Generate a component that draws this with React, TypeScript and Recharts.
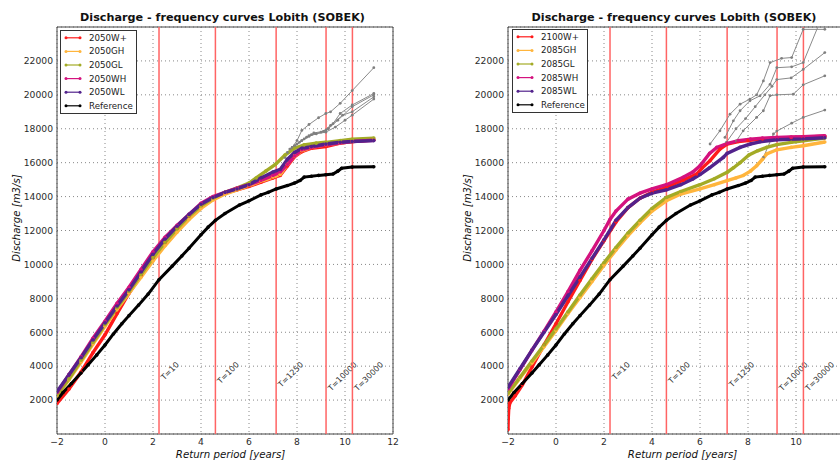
import React from "react";
import {
  LineChart,
  Line,
  XAxis,
  YAxis,
  CartesianGrid,
  ReferenceLine,
  ReferenceArea,
} from "recharts";

const FONT = "'DejaVu Sans', 'Bitstream Vera Sans', sans-serif";
const TITLE = "Discharge - frequency curves Lobith (SOBEK)";
const X_LABEL = "Return period [years]";
const Y_LABEL = "Discharge [m3/s]";

const xTicks = [-2, 0, 2, 4, 6, 8, 10, 12];
const xTicksCut = [-2, 0, 2, 4, 6, 8, 10];
const yTicks = [2000, 4000, 6000, 8000, 10000, 12000, 14000, 16000, 18000, 20000, 22000];
const returnPeriods = [10, 100, 1250, 10000, 30000];

// [gumbel reduced variate, discharge m3/s]
const reference = [
  [-2, 2000], [-1.75, 2450], [-1.4, 2980], [-1, 3600], [-0.7, 4080], [-0.35, 4650],
  [0, 5250], [0.35, 5900], [0.7, 6500], [1, 6980], [1.4, 7600], [1.8, 8250],
  [2.25, 9100], [2.8, 9900], [3.2, 10500], [3.5, 10950], [4, 11750], [4.3, 12200],
  [4.6, 12600], [5, 13000], [5.6, 13500], [6, 13750], [6.5, 14100], [6.8, 14250],
  [7.13, 14450], [7.6, 14650], [7.9, 14800], [8.13, 14950], [8.3, 15150], [8.6, 15200],
  [8.9, 15250], [9.2, 15290], [9.5, 15330], [9.7, 15500], [9.86, 15670], [10.3, 15740],
  [11.2, 15760],
];

const wPlus2050 = [
  [-2, 1800], [-1.5, 2650], [-1, 3650], [-0.5, 4800], [0, 5850], [0.5, 7100], [1, 8300],
  [1.5, 9350], [2, 10400], [2.5, 11300], [3, 12150], [3.5, 12850], [4, 13450], [4.5, 13900],
  [5, 14200], [5.5, 14400], [6, 14600], [6.5, 14850], [7, 15100], [7.3, 15250], [7.6, 15800],
  [7.9, 16350], [8.2, 16650], [8.6, 16850], [9.2, 16950], [9.8, 17150], [10.3, 17250],
  [11.2, 17350],
];
const gh2050 = [
  [-2, 2250], [-1.5, 3200], [-1, 4250], [-0.5, 5300], [0, 6350], [0.5, 7350], [1, 8300],
  [1.5, 9250], [2, 10200], [2.5, 11100], [3, 11900], [3.5, 12650], [4, 13300], [4.5, 13800],
  [5, 14150], [5.5, 14400], [6, 14650], [6.5, 14900], [7, 15150], [7.3, 15300], [7.6, 15900],
  [7.9, 16400], [8.2, 16700], [8.6, 16900], [9.2, 17050], [9.8, 17150], [10.3, 17250],
  [11.2, 17380],
];
const gl2050 = [
  [-2, 2300], [-1.5, 3250], [-1, 4350], [-0.5, 5400], [0, 6450], [0.5, 7450], [1, 8400],
  [1.5, 9400], [2, 10400], [2.5, 11300], [3, 12100], [3.5, 12850], [4, 13450], [4.5, 13900],
  [5, 14250], [5.5, 14500], [6, 14800], [6.3, 15100], [6.7, 15500], [7.1, 15900], [7.5, 16450],
  [7.9, 16850], [8.3, 17050], [8.8, 17150], [9.2, 17200], [9.8, 17300], [10.3, 17380],
  [11.2, 17450],
];
const wh2050 = [
  [-2, 2450], [-1.5, 3500], [-1, 4550], [-0.5, 5650], [0, 6650], [0.5, 7700], [1, 8650],
  [1.5, 9700], [2, 10750], [2.5, 11600], [3, 12300], [3.5, 12950], [4, 13600], [4.5, 14000],
  [5, 14250], [5.5, 14500], [6, 14700], [6.5, 14950], [7, 15250], [7.3, 15450], [7.6, 15900],
  [7.9, 16400], [8.2, 16750], [8.6, 16900], [9.2, 17050], [9.8, 17150], [10.3, 17250],
  [11.2, 17320],
];
const wl2050 = [
  [-2, 2500], [-1.5, 3500], [-1, 4500], [-0.5, 5550], [0, 6550], [0.5, 7550], [1, 8500],
  [1.5, 9550], [2, 10600], [2.5, 11500], [3, 12250], [3.5, 12950], [4, 13550], [4.5, 13950],
  [5, 14250], [5.5, 14450], [6, 14700], [6.5, 15100], [7, 15450], [7.3, 15600], [7.6, 16200],
  [7.9, 16600], [8.2, 16850], [8.6, 16950], [9.2, 17100], [9.8, 17200], [10.3, 17250],
  [11.2, 17300],
];

// runs without the breach limit (grey)
const gray2050a = [[7.5, 16300], [7.8, 16900], [8, 17300], [8.2, 17900], [8.5, 18250], [8.9, 18650], [9.2, 18900], [9.4, 19000], [9.8, 19500], [10.3, 20250], [11.2, 21600]];
const gray2050b = [[7.6, 16600], [7.9, 17000], [8.2, 17300], [8.5, 17600], [8.8, 17700], [9.2, 17900], [9.5, 18300], [9.8, 18900], [10.3, 19400], [11.2, 20080]];
const gray2050c = [[7.7, 16800], [8, 17100], [8.3, 17400], [8.6, 17650], [9, 17800], [9.3, 18000], [9.7, 18500], [10.3, 19300], [11.2, 20000]];
const gray2050d = [[7.8, 16900], [8.1, 17200], [8.4, 17500], [8.7, 17750], [9.1, 17850], [9.4, 18200], [9.9, 18800], [10.3, 19000], [11.2, 19880]];
const gray2050e = [[7.9, 16950], [8.2, 17300], [8.5, 17550], [8.8, 17700], [9.2, 17800], [9.6, 18100], [10, 18500], [10.3, 18800], [11.2, 19750]];

const wPlus2100 = [
  [-2, 250], [-1.99, 900], [-1.97, 1500], [-1.92, 1850], [-1.7, 2250], [-1.4, 2900], [-1, 3950],
  [-0.5, 5250], [0, 6500], [0.5, 7800], [1, 9050], [1.5, 10300], [2, 11400], [2.5, 12500],
  [3, 13350], [3.5, 13900], [4, 14250], [4.6, 14550], [5.3, 14960], [5.86, 15330], [6.1, 15700],
  [6.42, 16120], [6.83, 16800], [7.13, 17100], [7.6, 17250], [8, 17300], [8.6, 17400],
  [9.2, 17450], [9.8, 17480], [10.3, 17500], [11.2, 17560],
];
const gh2085 = [
  [-2, 2350], [-1.5, 3300], [-1, 4200], [-0.5, 5150], [0, 6100], [0.5, 7100], [1, 8050],
  [1.5, 9000], [2, 9950], [2.5, 10850], [3, 11700], [3.5, 12450], [4, 13150], [4.6, 13750],
  [5.2, 14150], [6, 14450], [6.6, 14700], [7.13, 14940], [7.5, 15100], [7.8, 15240], [8.1, 15500],
  [8.36, 15820], [8.6, 16200], [8.78, 16510], [9.2, 16760], [9.8, 16900], [10.3, 17000],
  [11.2, 17220],
];
const gl2085 = [
  [-2, 2400], [-1.5, 3350], [-1, 4300], [-0.5, 5250], [0, 6200], [0.5, 7200], [1, 8200],
  [1.5, 9150], [2, 10100], [2.5, 11000], [3, 11850], [3.5, 12600], [4, 13300], [4.6, 13950],
  [5.2, 14300], [6, 14700], [6.6, 15050], [7.15, 15450], [7.4, 15700], [7.67, 16000],
  [8.04, 16450], [8.4, 16700], [8.78, 16900], [9.2, 17060], [9.8, 17200], [10.3, 17290],
  [11.2, 17450],
];
const wh2085 = [
  [-2, 2650], [-1.5, 3800], [-1, 4950], [-0.5, 6050], [0, 7200], [0.5, 8400], [1, 9650],
  [1.5, 10800], [2, 12000], [2.25, 12650], [2.5, 13150], [3, 13850], [3.5, 14200], [4, 14450],
  [4.6, 14700], [5.3, 15140], [5.7, 15450], [6, 15820], [6.4, 16550], [6.7, 16900],
  [7.15, 17140], [7.6, 17300], [8.1, 17390], [8.6, 17450], [9.2, 17490], [9.8, 17510],
  [10.3, 17530], [11.2, 17590],
];
const wl2085 = [
  [-2, 2750], [-1.5, 3850], [-1, 4950], [-0.5, 6000], [0, 7050], [0.5, 8150], [1, 9250],
  [1.5, 10350], [2, 11450], [2.5, 12600], [3, 13350], [3.5, 13900], [4, 14200], [4.6, 14400],
  [5.2, 14700], [5.7, 15040], [6, 15300], [6.4, 15700], [6.97, 16310], [7.13, 16550],
  [7.67, 16900], [8.1, 17100], [8.5, 17230], [9.2, 17350], [10.3, 17400], [11.2, 17470],
];

const gray2085a = [[6.42, 17100], [6.83, 17880], [7.25, 18860], [7.67, 19450], [8.08, 19750], [8.36, 20000], [8.64, 20820], [8.92, 21900], [9.4, 22150], [9.82, 22200], [10.3, 23860], [11.2, 23860]];
const gray2085b = [[7.04, 17490], [7.39, 18470], [7.67, 19060], [8.08, 19650], [8.5, 19940], [8.92, 20620], [9.2, 21600], [9.82, 21650], [10.3, 21900], [11.2, 25000]];
const gray2085c = [[7.1, 17200], [7.5, 18000], [7.9, 18600], [8.3, 19300], [8.7, 20000], [9, 20500], [9.2, 20900], [9.8, 21000], [10.3, 21500], [11.2, 22490]];
const gray2085d = [[7.52, 17290], [7.8, 17880], [8.36, 18670], [8.64, 19060], [8.92, 19950], [9.2, 20000], [9.89, 20040], [10.3, 20590], [11.2, 21120]];
const gray2085e = [[8.64, 16310], [9.06, 17690], [9.2, 17860], [9.82, 18330], [10.3, 18670], [11.2, 19100]];

const COLORS = {
  wplus: "#ff1a1a",
  gh: "#ffb53d",
  gl: "#a3ab26",
  wh: "#d4127e",
  wl: "#52228c",
  ref: "#000000",
  gray: "#8a8a8a",
};

type Series = { name: string; data: number[][]; color: string };

const series2050: Series[] = [
  { name: "2050W+", data: wPlus2050, color: COLORS.wplus },
  { name: "2050GH", data: gh2050, color: COLORS.gh },
  { name: "2050GL", data: gl2050, color: COLORS.gl },
  { name: "2050WH", data: wh2050, color: COLORS.wh },
  { name: "2050WL", data: wl2050, color: COLORS.wl },
  { name: "Reference", data: reference, color: COLORS.ref },
];
const series2085: Series[] = [
  { name: "2100W+", data: wPlus2100, color: COLORS.wplus },
  { name: "2085GH", data: gh2085, color: COLORS.gh },
  { name: "2085GL", data: gl2085, color: COLORS.gl },
  { name: "2085WH", data: wh2085, color: COLORS.wh },
  { name: "2085WL", data: wl2085, color: COLORS.wl },
  { name: "Reference", data: reference, color: COLORS.ref },
];
const grays2050 = [gray2050a, gray2050b, gray2050c, gray2050d, gray2050e];
const grays2085 = [gray2085a, gray2085b, gray2085c, gray2085d, gray2085e];

const toPoints = (arr: number[][]) => arr.map(([v, q]) => ({ v, q }));

// gumbel reduced variate for a return period
const gumbel = (T: number) => -Math.log(-Math.log(1 - 1 / T));

const Y_MAX = 24000;
const T_FONT = 8;
// rough DejaVu advance widths (em) for the T= labels
const charWidth = (c: string) => (c === "T" ? 0.611 : c === "=" ? 0.838 : 0.636);

const periodLabel = (text: string) => (props: any) => {
  const { x, y, height } = props.viewBox;
  const top = y + height * (1 - 4300 / Y_MAX);
  const len = text.split("").reduce((s, c) => s + charWidth(c), 0) * T_FONT;
  const asc = 0.73 * T_FONT;
  const px = x + 1 + 0.707 * asc;
  const py = top + 0.707 * (len + asc);
  return (
    <text
      transform={`translate(${px},${py}) rotate(-45)`}
      fontSize={T_FONT}
      fontFamily={FONT}
      fill="#333"
    >
      {text}
    </text>
  );
};

const fmtTick = (v: number) => (v < 0 ? `\u2212${Math.abs(v)}` : `${v}`);

type PanelProps = {
  series: Series[];
  grays: number[][][];
  width: number;
  marginLeft: number;
  marginRight: number;
  labelTicks: number[];
};

const Panel = ({ series, grays, width, marginLeft, marginRight, labelTicks }: PanelProps) => (
  <LineChart
    width={width}
    height={464}
    margin={{ top: 27, right: marginRight, bottom: 10, left: marginLeft }}
  >
    <CartesianGrid
      stroke="#888"
      strokeDasharray="1 3"
      strokeWidth={1}
      verticalPoints={undefined}
    />
    <XAxis
      type="number"
      dataKey="v"
      domain={[-2, 12]}
      ticks={labelTicks}
      allowDataOverflow
      height={20}
      axisLine={false}
      tickLine={false}
      tickSize={0}
      tickMargin={4}
      tickFormatter={fmtTick}
      tick={{ fill: "#2b2b2b", fontSize: 9.2, fontFamily: FONT }}
    />
    <YAxis
      type="number"
      domain={[0, Y_MAX]}
      ticks={yTicks}
      allowDataOverflow
      width={50}
      axisLine={false}
      tickLine={false}
      tickSize={0}
      tickMargin={4}
      tick={{ fill: "#2b2b2b", fontSize: 9.2, fontFamily: FONT }}
    />
    {returnPeriods.map((T) => (
      <ReferenceLine
        key={T}
        x={gumbel(T)}
        stroke="#ff6464"
        strokeWidth={1.5}
        label={periodLabel(`T=${T}`)}
      />
    ))}
    {grays.map((g, i) => (
      <Line
        key={`g${i}`}
        data={toPoints(g)}
        dataKey="q"
        type="linear"
        stroke={COLORS.gray}
        strokeWidth={1}
        dot={{ r: 1.4, fill: "#7f7f7f", stroke: "#7f7f7f", strokeWidth: 0 }}
        activeDot={false}
        legendType="none"
        isAnimationActive={false}
      />
    ))}
    {series.map((s) => (
      <Line
        key={s.name}
        name={s.name}
        data={toPoints(s.data)}
        dataKey="q"
        type="linear"
        stroke={s.color}
        strokeWidth={s.name === "Reference" ? 3 : 3.4}
        dot={{ r: 1.8, fill: s.color, stroke: s.color, strokeWidth: 0 }}
        activeDot={false}
        isAnimationActive={false}
      />
    ))}
    <ReferenceArea x1={-2} x2={12} y1={0} y2={Y_MAX} fill="none" stroke="#444" strokeWidth={1} />
  </LineChart>
);

const LegendBox = ({ x, y, w, items }: { x: number; y: number; w: number; items: Series[] }) => (
  <g transform={`translate(${x},${y})`}>
    <rect x={0.5} y={0.5} width={w} height={83} fill="#fff" stroke="#333" strokeWidth={1} />
    {items.map((s, i) => {
      const cy = 7.8 + i * 13.6;
      return (
        <g key={s.name}>
          <line x1={6} x2={20} y1={cy} y2={cy} stroke={s.color} strokeWidth={1.2} />
          <circle cx={6} cy={cy} r={1.5} fill={s.color} />
          <circle cx={20} cy={cy} r={1.5} fill={s.color} />
          <text x={29} y={cy} dy="0.35em" fontSize={8.7} fontFamily={FONT} fill="#222">
            {s.name}
          </text>
        </g>
      );
    })}
  </g>
);

export default function App() {
  return (
    <div
      style={{
        position: "absolute",
        left: 0,
        top: 0,
        width: 840,
        height: 464,
        overflow: "hidden",
        background: "#fff",
        fontFamily: FONT,
      }}
    >
      <div style={{ position: "absolute", left: 0, top: 0 }}>
        <Panel
          series={series2050}
          grays={grays2050}
          width={420}
          marginLeft={7}
          marginRight={27}
          labelTicks={xTicks}
        />
      </div>
      <div style={{ position: "absolute", left: 420, top: 0 }}>
        <Panel
          series={series2085}
          grays={grays2085}
          width={440}
          marginLeft={38}
          marginRight={16}
          labelTicks={xTicksCut}
        />
      </div>
      <svg
        width={840}
        height={464}
        style={{ position: "absolute", left: 0, top: 0, pointerEvents: "none" }}
      >
        <g fontFamily={FONT} fill="#111">
          <text x={222.5} y={20.7} textAnchor="middle" fontSize={11.2} fontWeight="bold">
            {TITLE}
          </text>
          <text x={674} y={20.7} textAnchor="middle" fontSize={11.2} fontWeight="bold">
            {TITLE}
          </text>
          <text x={230.5} y={457.5} textAnchor="middle" fontSize={10.2} fontStyle="italic">
            {X_LABEL}
          </text>
          <text x={682.5} y={457.5} textAnchor="middle" fontSize={10.2} fontStyle="italic">
            {X_LABEL}
          </text>
          <text
            transform="translate(19.5,218) rotate(-90)"
            textAnchor="middle"
            fontSize={10.2}
            fontStyle="italic"
          >
            {Y_LABEL}
          </text>
          <text
            transform="translate(471,218) rotate(-90)"
            textAnchor="middle"
            fontSize={10.2}
            fontStyle="italic"
          >
            {Y_LABEL}
          </text>
        </g>
        <LegendBox x={60} y={30} w={76} items={series2050} />
        <LegendBox x={512} y={29} w={75} items={series2085} />
      </svg>
    </div>
  );
}
